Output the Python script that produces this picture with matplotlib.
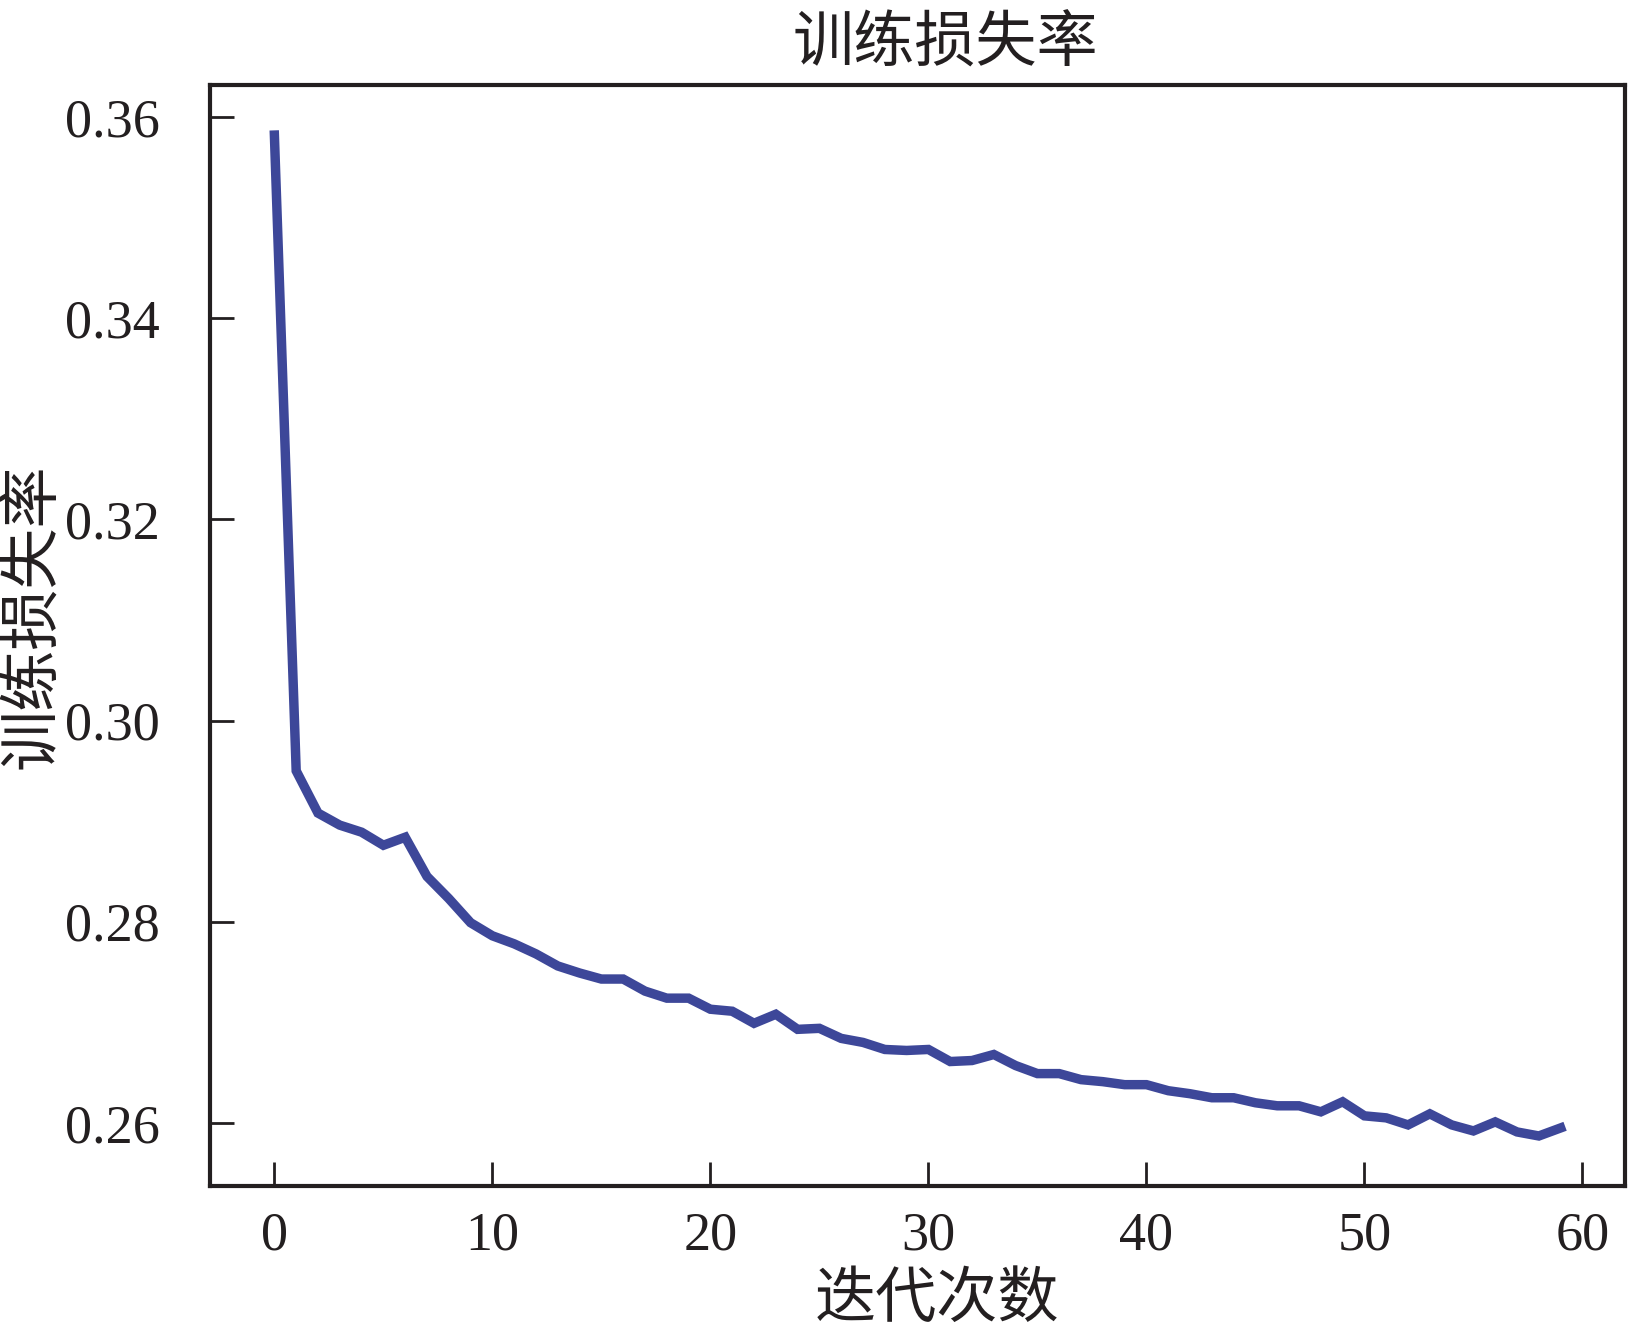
import numpy as np
import matplotlib
matplotlib.use('Agg')
from matplotlib import pyplot as plt

# 训练损失率, 每次迭代读一个值
iterations = list(range(60))
loss = [0.3582, 0.2950, 0.2908, 0.2896, 0.2889, 0.2876, 0.2884, 0.2845, 0.2823, 0.2799,
        0.2786, 0.2778, 0.2768, 0.2756, 0.2749, 0.2743, 0.2743, 0.2731, 0.2724, 0.2724,
        0.2713, 0.2711, 0.2699, 0.2708, 0.2693, 0.2694, 0.2684, 0.2680, 0.2673, 0.2672,
        0.2673, 0.2661, 0.2662, 0.2668, 0.2657, 0.2649, 0.2649, 0.2643, 0.2641, 0.2638,
        0.2638, 0.2632, 0.2629, 0.2625, 0.2625, 0.2620, 0.2617, 0.2617, 0.2611, 0.2621,
        0.2607, 0.2605, 0.2598, 0.2609, 0.2598, 0.2592, 0.2601, 0.2591, 0.2587, 0.2595]
xticks = [0, 10, 20, 30, 40, 50, 60]
yticks = [0.26, 0.28, 0.30, 0.32, 0.34, 0.36]

ink = '#231f20'
cjk = ['Noto Sans CJK SC', 'DejaVu Sans']
serif = ['Liberation Serif', 'DejaVu Serif']

fig = plt.figure(figsize=(16.31, 13.35), dpi=100)
ax = fig.add_axes([0.1288, 0.1116, 0.8675, 0.8247])

ax.plot(iterations, loss, color='#3d4799', lw=6.8, solid_joinstyle='miter')

ax.set_xticks(xticks)
ax.set_yticks(yticks)
ax.set_yticklabels(['%.2f' % v for v in yticks])
ax.tick_params(axis='both', direction='in', length=17, width=2, colors=ink,
               labelsize=39, labelcolor=ink)
ax.tick_params(axis='y', pad=36)
ax.tick_params(axis='x', pad=18)
for lab in ax.get_xticklabels() + ax.get_yticklabels():
    lab.set_family(serif)
for s in ax.spines.values():
    s.set_linewidth(3)
    s.set_color(ink)

ax.set_title('训练损失率', family=cjk, fontsize=44, color=ink, pad=17, x=0.52)
ax.set_xlabel('迭代次数', family=cjk, fontsize=44, color=ink, labelpad=5)
ax.xaxis.label.set_x(0.514)
ax.set_ylabel('训练损失率', family=cjk, fontsize=44, color=ink)
ax.yaxis.set_label_coords(-0.103, 0.518)

fig.savefig('out.png', dpi=100)
